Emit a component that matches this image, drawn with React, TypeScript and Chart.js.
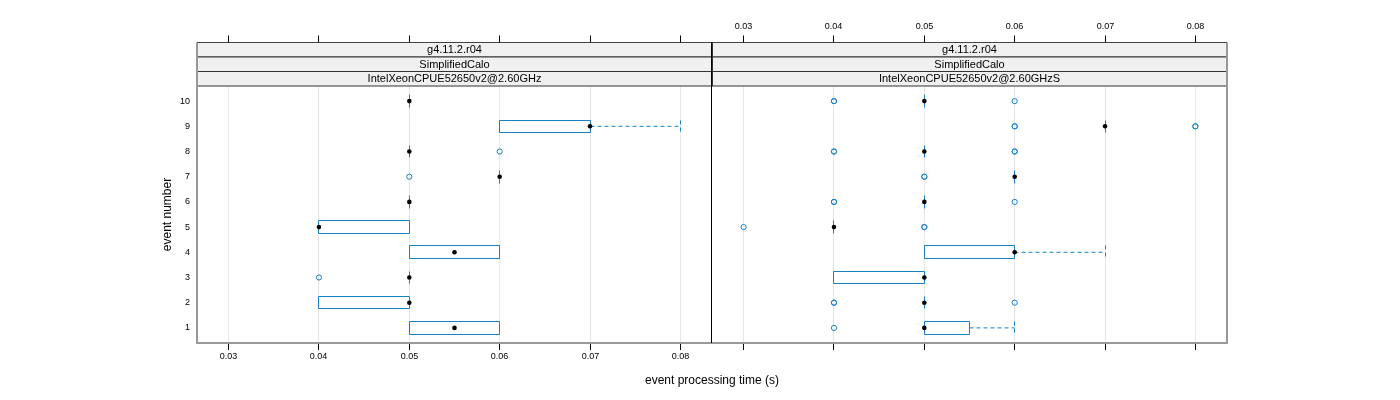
import React, { useEffect, useRef } from "react";
import { Chart, registerables } from "chart.js";
Chart.register(...registerables);

// ---------- data ----------
const EVENTS = [1, 2, 3, 4, 5, 6, 7, 8, 9, 10];
const X_TICKS = [0.03, 0.04, 0.05, 0.06, 0.07, 0.08];
const Y_TICKS = [1, 2, 3, 4, 5, 6, 7, 8, 9, 10];

const STRIP_LEFT = ["g4.11.2.r04", "SimplifiedCalo", "IntelXeonCPUE52650v2@2.60GHz"];
const STRIP_RIGHT = ["g4.11.2.r04", "SimplifiedCalo", "IntelXeonCPUE52650v2@2.60GHzS"];

// [lower whisker, Q1, median, Q3, upper whisker] for events 1..10
const LEFT_STATS = [
  [0.05, 0.05, 0.055, 0.06, 0.06],
  [0.04, 0.04, 0.05, 0.05, 0.05],
  [0.05, 0.05, 0.05, 0.05, 0.05],
  [0.05, 0.05, 0.055, 0.06, 0.06],
  [0.04, 0.04, 0.04, 0.05, 0.05],
  [0.05, 0.05, 0.05, 0.05, 0.05],
  [0.06, 0.06, 0.06, 0.06, 0.06],
  [0.05, 0.05, 0.05, 0.05, 0.05],
  [0.06, 0.06, 0.07, 0.07, 0.08],
  [0.05, 0.05, 0.05, 0.05, 0.05],
];
const LEFT_OUTLIERS = [[], [], [0.04], [], [], [], [0.05], [0.06], [], []];

const RIGHT_STATS = [
  [0.05, 0.05, 0.05, 0.055, 0.06],
  [0.05, 0.05, 0.05, 0.05, 0.05],
  [0.04, 0.04, 0.05, 0.05, 0.05],
  [0.05, 0.05, 0.06, 0.06, 0.07],
  [0.04, 0.04, 0.04, 0.04, 0.04],
  [0.05, 0.05, 0.05, 0.05, 0.05],
  [0.06, 0.06, 0.06, 0.06, 0.06],
  [0.05, 0.05, 0.05, 0.05, 0.05],
  [0.07, 0.07, 0.07, 0.07, 0.07],
  [0.05, 0.05, 0.05, 0.05, 0.05],
];
const RIGHT_OUTLIERS = [
  [0.04],
  [0.04, 0.04, 0.06],
  [],
  [],
  [0.03, 0.05, 0.05],
  [0.04, 0.04, 0.06],
  [0.05, 0.05],
  [0.04, 0.04, 0.06, 0.06],
  [0.06, 0.06, 0.08, 0.08],
  [0.04, 0.04, 0.06],
];

const X_TITLE = "event processing time (s)";
const Y_TITLE = "event number";

// ---------- style / layout ----------
const W = 1400;
const H = 400;
const X_MIN = 0.0265;
const X_MAX = 0.0835;
const Y_MIN = 0.4;
const Y_MAX = 10.6;
const PANEL_TOP = 86;
const PANEL_BOTTOM = 343;
const STRIP_TOP = 42.5;
const BOX_HALF = 0.25;
const BLUE = "#1a80c4";
const FONT = '"Liberation Sans", Arial, Helvetica, sans-serif';

type PanelCfg = {
  left: number;
  right: number;
  strips: string[];
  stats: number[][];
  outliers: number[][];
  topLabels: boolean;
  bottomLabels: boolean;
  isLeft: boolean;
};

const crisp = (v: number) => Math.round(v - 0.5) + 0.5;

function makePlugin(cfg: PanelCfg) {
  return {
    id: "panelDecor",
    beforeDatasetsDraw(chart: any) {
      const ctx = chart.ctx;
      const xs = chart.scales.x;
      const ys = chart.scales.y;
      const ca = chart.chartArea;
      ctx.save();
      // grid lines
      ctx.strokeStyle = "#e6e6e6";
      ctx.lineWidth = 1;
      X_TICKS.forEach((t) => {
        const px = crisp(xs.getPixelForValue(t));
        ctx.beginPath();
        ctx.moveTo(px, ca.top);
        ctx.lineTo(px, ca.bottom);
        ctx.stroke();
      });
      // boxes and whiskers
      ctx.strokeStyle = BLUE;
      EVENTS.forEach((ev, i) => {
        const [lo, q1, , q3, hi] = cfg.stats[i];
        const yc = ys.getPixelForValue(ev);
        const yt = crisp(ys.getPixelForValue(ev + BOX_HALF));
        const yb = crisp(ys.getPixelForValue(ev - BOX_HALF));
        const x1 = crisp(xs.getPixelForValue(q1));
        const x3 = crisp(xs.getPixelForValue(q3));
        ctx.setLineDash([]);
        ctx.lineWidth = 1;
        ctx.beginPath();
        if (Math.abs(x3 - x1) < 0.5) {
          ctx.moveTo(x1, yt);
          ctx.lineTo(x1, yb);
        } else {
          ctx.rect(x1, yt, x3 - x1, yb - yt);
        }
        ctx.stroke();
        ctx.setLineDash([4, 3]);
        if (hi > q3) {
          const xh = crisp(xs.getPixelForValue(hi));
          ctx.beginPath();
          ctx.moveTo(x3, yc);
          ctx.lineTo(xh, yc);
          ctx.moveTo(xh, yt);
          ctx.lineTo(xh, yb);
          ctx.stroke();
        }
        if (lo < q1) {
          const xl = crisp(xs.getPixelForValue(lo));
          ctx.beginPath();
          ctx.moveTo(x1, yc);
          ctx.lineTo(xl, yc);
          ctx.moveTo(xl, yt);
          ctx.lineTo(xl, yb);
          ctx.stroke();
        }
      });
      ctx.restore();
    },
    afterDraw(chart: any) {
      const ctx = chart.ctx;
      const xs = chart.scales.x;
      const ys = chart.scales.y;
      const ca = chart.chartArea;
      ctx.save();
      ctx.setLineDash([]);
      // strips
      const sh = (PANEL_TOP - STRIP_TOP) / cfg.strips.length;
      cfg.strips.forEach((s, k) => {
        const y0 = STRIP_TOP + k * sh;
        ctx.fillStyle = "#f0f0f0";
        ctx.fillRect(ca.left, y0, ca.right - ca.left, sh);
        ctx.strokeStyle = "#333";
        ctx.lineWidth = 1;
        ctx.strokeRect(ca.left + 0.5, y0, ca.right - ca.left - 1, sh);
        ctx.fillStyle = "#000";
        ctx.font = `11px ${FONT}`;
        ctx.textAlign = "center";
        ctx.textBaseline = "middle";
        ctx.fillText(s, (ca.left + ca.right) / 2, y0 + sh / 2 + 0.5);
      });
      // panel frame
      ctx.strokeStyle = "#999";
      ctx.lineWidth = 2;
      ctx.beginPath();
      if (cfg.isLeft) {
        ctx.moveTo(ca.left, STRIP_TOP);
        ctx.lineTo(ca.left, ca.bottom);
        ctx.lineTo(ca.right, ca.bottom);
      } else {
        ctx.moveTo(ca.left, ca.bottom);
        ctx.lineTo(ca.right, ca.bottom);
        ctx.lineTo(ca.right, STRIP_TOP);
      }
      ctx.stroke();
      ctx.strokeStyle = "#444";
      ctx.lineWidth = 1;
      ctx.beginPath();
      ctx.moveTo(ca.left, STRIP_TOP);
      ctx.lineTo(ca.right, STRIP_TOP);
      ctx.stroke();
      // divider between panels (drawn once, by the left panel)
      if (cfg.isLeft) {
        ctx.strokeStyle = "#000";
        ctx.lineWidth = 1;
        ctx.beginPath();
        const dx = ca.right - 0.5;
        ctx.moveTo(dx, STRIP_TOP);
        ctx.lineTo(dx, ca.bottom);
        ctx.stroke();
      }
      // ticks
      ctx.strokeStyle = "#000";
      ctx.fillStyle = "#000";
      ctx.font = `9px ${FONT}`;
      ctx.textAlign = "center";
      X_TICKS.forEach((t) => {
        const px = crisp(xs.getPixelForValue(t));
        ctx.beginPath();
        ctx.moveTo(px, ca.bottom + 1);
        ctx.lineTo(px, ca.bottom + 7);
        ctx.moveTo(px, STRIP_TOP - 7);
        ctx.lineTo(px, STRIP_TOP);
        ctx.stroke();
        const label = t.toFixed(2);
        ctx.textBaseline = "middle";
        if (cfg.bottomLabels) ctx.fillText(label, px, 357);
        if (cfg.topLabels) ctx.fillText(label, px, 27);
      });
      if (cfg.isLeft) {
        ctx.textAlign = "right";
        ctx.textBaseline = "middle";
        Y_TICKS.forEach((t) => {
          ctx.fillText(String(t), ca.left - 7, ys.getPixelForValue(t));
        });
        // axis titles
        ctx.font = `12px ${FONT}`;
        ctx.textAlign = "center";
        ctx.fillText(X_TITLE, ca.right, 381);
        ctx.save();
        ctx.translate(168, (ca.top + ca.bottom) / 2);
        ctx.rotate(-Math.PI / 2);
        ctx.fillText(Y_TITLE, 0, 0);
        ctx.restore();
      }
      ctx.restore();
    },
  };
}

function Panel({ cfg }: { cfg: PanelCfg }) {
  const ref = useRef<HTMLCanvasElement | null>(null);
  useEffect(() => {
    if (!ref.current) return;
    const medians = EVENTS.map((ev, i) => ({ x: cfg.stats[i][2], y: ev }));
    const outs: { x: number; y: number }[] = [];
    EVENTS.forEach((ev, i) => cfg.outliers[i].forEach((v) => outs.push({ x: v, y: ev })));
    const chart = new Chart(ref.current, {
      type: "scatter",
      data: {
        datasets: [
          {
            data: medians,
            pointRadius: 2.3,
            pointStyle: "circle",
            backgroundColor: "#000",
            borderColor: "#000",
            borderWidth: 0,
            order: 0,
          },
          {
            data: outs,
            pointRadius: 2.6,
            pointStyle: "circle",
            backgroundColor: "rgba(0,0,0,0)",
            borderColor: BLUE,
            borderWidth: 1,
            order: 1,
          },
        ],
      },
      options: {
        responsive: false,
        animation: false,
        devicePixelRatio: 1,
        events: [],
        layout: {
          padding: { left: cfg.left, right: W - cfg.right, top: PANEL_TOP, bottom: H - PANEL_BOTTOM },
        },
        scales: {
          x: { type: "linear", min: X_MIN, max: X_MAX, display: false },
          y: { type: "linear", min: Y_MIN, max: Y_MAX, display: false },
        },
        plugins: { legend: { display: false }, tooltip: { enabled: false }, title: { display: false } },
      },
      plugins: [makePlugin(cfg)],
    } as any);
    return () => chart.destroy();
  }, [cfg]);
  return (
    <canvas
      ref={ref}
      width={W}
      height={H}
      style={{ position: "absolute", left: 0, top: 0, width: W, height: H }}
    />
  );
}

const LEFT_CFG: PanelCfg = {
  left: 197,
  right: 712,
  strips: STRIP_LEFT,
  stats: LEFT_STATS,
  outliers: LEFT_OUTLIERS,
  topLabels: false,
  bottomLabels: true,
  isLeft: true,
};
const RIGHT_CFG: PanelCfg = {
  left: 712,
  right: 1227,
  strips: STRIP_RIGHT,
  stats: RIGHT_STATS,
  outliers: RIGHT_OUTLIERS,
  topLabels: true,
  bottomLabels: false,
  isLeft: false,
};

export default function App() {
  return (
    <div style={{ position: "absolute", left: 0, top: 0, width: W, height: H, background: "#fff" }}>
      <Panel cfg={LEFT_CFG} />
      <Panel cfg={RIGHT_CFG} />
    </div>
  );
}
